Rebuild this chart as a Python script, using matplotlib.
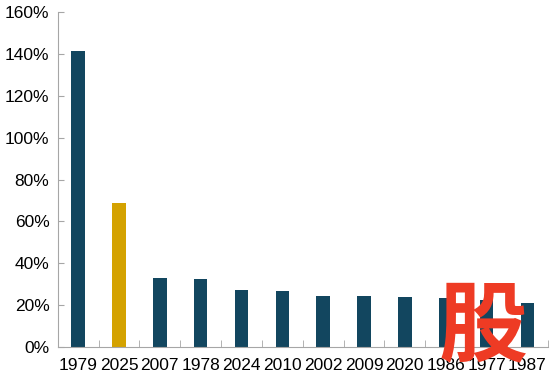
import numpy as np
import matplotlib.pyplot as plt
from matplotlib.ticker import FuncFormatter

# Категорії та значення (%)
years = ['1979', '2025', '2007', '1978', '2024', '2010', '2002', '2009', '2020', '1986', '1977', '1987']
values = [141.4, 68.8, 33.0, 32.3, 27.3, 26.6, 24.5, 24.2, 23.7, 23.4, 22.3, 21.0]
highlight = '2025'

plt.rcParams['font.family'] = ['Liberation Sans', 'DejaVu Sans']

navy = '#12465f'
gold = '#d4a200'
colors = [gold if y == highlight else navy for y in years]

fig = plt.figure(figsize=(5.5, 3.84), dpi=100)
ax = fig.add_axes([0.105, 0.096, 0.891, 0.873])

x = np.arange(len(years))
ax.bar(x, values, width=0.33, color=colors)

ax.set_xlim(-0.5, len(years) - 0.5)
ax.set_ylim(0, 160)
ax.set_yticks(np.arange(0, 161, 20))
ax.yaxis.set_major_formatter(FuncFormatter(lambda v, p: f'{v:.0f}%'))

# Підписи по центру категорій, риски на межах
ax.set_xticks(x)
ax.set_xticklabels(years)
ax.set_xticks(np.arange(-0.5, len(years)), minor=True)
ax.tick_params(axis='x', which='major', length=0, pad=8, labelsize=12.5)
ax.tick_params(axis='x', which='minor', direction='in', length=5, color='#a6a6a6')
ax.tick_params(axis='y', direction='in', length=4, color='#a6a6a6', labelsize=12.5, pad=6)

for s in ['top', 'right']:
    ax.spines[s].set_visible(False)
for s in ['left', 'bottom']:
    ax.spines[s].set_color('#a6a6a6')

# Водяний знак
fig.text(0.878, 0.146, '股', color='#ee3b24', fontsize=64, fontweight='bold',
         family=['Noto Sans CJK SC'], ha='center', va='center', style='italic')

fig.savefig('out.png', dpi=100)
